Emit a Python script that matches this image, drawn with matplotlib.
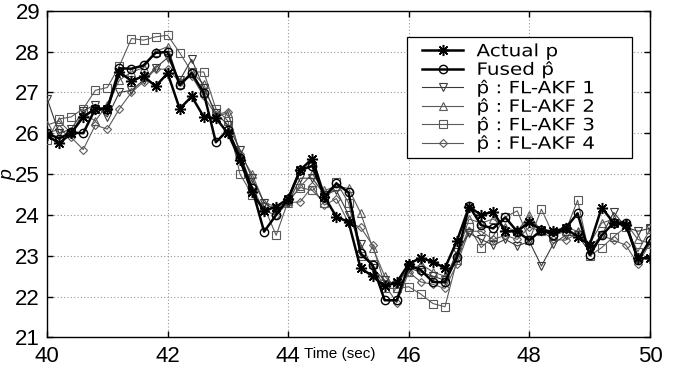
import numpy as np
import matplotlib
matplotlib.use("Agg")
import matplotlib.pyplot as plt
from matplotlib.patheffects import AbstractPathEffect
from matplotlib.transforms import Affine2D
from matplotlib.legend_handler import HandlerLine2D
from matplotlib.lines import Line2D

plt.rcParams['font.family'] = ['Liberation Sans', 'DejaVu Sans']

time = np.round(np.arange(40.0, 50.0001, 0.2), 1)

actual_p = [25.95, 25.75, 26.0, 26.4, 26.6, 26.6, 27.5, 27.28, 27.4, 27.15,
            27.47, 26.6, 26.9, 26.4, 26.37, 26.0, 25.35, 24.55, 24.1, 24.2,
            24.4, 25.1, 25.38, 24.45, 23.95, 23.83, 22.7, 22.5, 22.25, 22.35,
            22.8, 22.95, 22.85, 22.7, 23.37, 24.2, 24.0, 24.08, 23.6, 23.6,
            23.83, 23.62, 23.6, 23.67, 23.47, 23.26, 24.18, 23.8, 23.75, 22.94,
            22.94]

fused_p = [26.0, 25.87, 26.02, 26.0, 26.6, 26.6, 27.59, 27.58, 27.66, 27.97,
           27.99, 27.18, 27.47, 26.98, 25.78, 26.08, 25.4, 24.65, 23.59, 24.0,
           24.4, 25.1, 25.2, 24.45, 24.77, 24.55, 23.06, 22.77, 21.91, 21.91,
           22.77, 22.65, 22.36, 22.35, 22.97, 24.22, 23.75, 23.67, 23.94, 23.59,
           23.38, 23.63, 23.51, 23.67, 24.04, 23.02, 23.5, 23.81, 23.81, 22.9,
           23.38]

akf1 = [26.85, 26.0, 26.1, 26.55, 26.7, 26.4, 27.0, 27.05, 27.3, 27.6,
        27.85, 27.3, 27.81, 27.1, 26.5, 26.2, 25.6, 24.9, 24.3, 24.1,
        24.3, 24.9, 24.9, 24.5, 24.6, 24.0, 23.3, 22.7, 22.4, 22.3,
        22.7, 22.6, 22.5, 22.4, 23.1, 23.55, 23.4, 23.26, 23.4, 23.24,
        23.35, 22.75, 23.3, 23.5, 23.5, 23.1, 23.5, 24.06, 23.7, 23.6,
        23.67]

akf2 = [26.2, 26.3, 26.0, 26.5, 26.3, 26.7, 27.3, 27.5, 27.6, 28.0,
        28.12, 27.2, 27.5, 27.2, 26.4, 26.5, 25.5, 25.0, 24.3, 24.2,
        24.3, 24.7, 25.0, 24.6, 24.7, 24.65, 24.05, 23.2, 22.5, 22.2,
        22.6, 22.8, 22.6, 22.5, 23.0, 23.9, 23.8, 23.9, 23.7, 23.6,
        24.0, 23.6, 23.6, 23.7, 23.6, 23.3, 23.8, 23.9, 23.8, 23.4,
        23.3]

akf3 = [25.83, 26.35, 26.4, 26.6, 27.05, 27.12, 27.65, 28.32, 28.28, 28.36,
        28.4, 27.97, 27.5, 27.5, 26.6, 26.3, 25.0, 24.5, 24.2, 23.5,
        24.35, 24.67, 24.6, 24.3, 24.8, 24.3, 23.0, 22.8, 22.2, 22.2,
        22.24, 22.06, 21.83, 21.75, 22.9, 23.7, 23.2, 23.48, 23.95, 24.1,
        23.38, 24.14, 23.5, 23.6, 24.36, 23.0, 23.2, 23.47, 23.7, 23.1,
        23.65]

akf4 = [26.0, 26.1, 25.9, 25.6, 26.2, 26.1, 26.6, 27.0, 27.26, 27.57,
        27.57, 27.26, 27.4, 26.9, 26.45, 26.53, 25.5, 24.7, 24.1, 24.0,
        24.3, 24.32, 24.7, 24.24, 24.4, 23.8, 23.7, 23.26, 22.3, 21.85,
        22.6, 22.36, 22.3, 22.2, 22.8, 23.6, 23.6, 23.4, 23.5, 23.4,
        23.7, 23.6, 23.4, 23.38, 23.55, 23.2, 23.5, 23.38, 23.26, 22.8,
        23.3]

labels = ["Actual p", "Fused p\u0302",
          "p\u0302 : FL-AKF 1", "p\u0302 : FL-AKF 2",
          "p\u0302 : FL-AKF 3", "p\u0302 : FL-AKF 4"]
xticks = [40, 42, 44, 46, 48, 50]
yticks = [21, 22, 23, 24, 25, 26, 27, 28, 29]


class HStretch(AbstractPathEffect):
    """Draw text glyphs stretched horizontally from the text origin."""
    def __init__(self, sx):
        super().__init__()
        self.sx = sx

    def draw_path(self, renderer, gc, tpath, affine, rgbFace=None):
        renderer.draw_path(gc, tpath, Affine2D().scale(self.sx, 1.0) + affine, rgbFace)


fig = plt.figure(figsize=(6.82, 3.70), dpi=100)
ax = fig.add_axes([0.069, 0.088, 0.884, 0.883])

ax.plot(time, actual_p, color='black', lw=1.8, marker=(8, 2, 0), ms=8, mew=1.1,
        label=labels[0], zorder=6)
ax.plot(time, fused_p, color='black', lw=1.8, marker='o', ms=6, mfc='none', mew=1.0,
        label=labels[1], zorder=5)
ax.plot(time, akf1, color='#3a3a3a', lw=0.8, marker='v', ms=6, mfc='none', mew=0.8,
        label=labels[2], zorder=4)
ax.plot(time, akf2, color='#5a5a5a', lw=0.8, marker='^', ms=6, mfc='none', mew=0.8,
        label=labels[3], zorder=3)
ax.plot(time, akf3, color='#5a5a5a', lw=0.8, marker='s', ms=5.5, mfc='none', mew=0.8,
        label=labels[4], zorder=3)
ax.plot(time, akf4, color='#5a5a5a', lw=0.8, marker='D', ms=4.5, mfc='none', mew=0.8,
        label=labels[5], zorder=3)

ax.set_xlim(40, 50)
ax.set_ylim(21, 29)
ax.set_xticks(xticks)
ax.set_yticks(yticks)
ax.tick_params(direction='in', length=4, width=1.0, labelsize=16,
               top=True, right=True)
ax.tick_params(axis='y', pad=5)
ax.tick_params(axis='x', pad=6)
ax.grid(True, color='#999999', linestyle=(0, (1, 2)), linewidth=0.8)
for s in ax.spines.values():
    s.set_linewidth(1.0)

ax.set_xlabel("Time (sec)", fontsize=11)
ax.xaxis.set_label_coords(0.486, -0.03)
ax.set_ylabel("p", fontsize=14, style='italic')
ax.yaxis.set_label_coords(-0.05, 0.5)

leg_fs = 12.2
leg = ax.legend(loc='upper left', bbox_to_anchor=(0.597, 0.5, 0.373, 0.419),
                mode='expand', borderaxespad=0,
                prop={'family': 'DejaVu Sans', 'size': leg_fs},
                fancybox=False, framealpha=1, edgecolor='black',
                handlelength=3.0, handletextpad=0.8, labelspacing=0.0,
                borderpad=0.3,
                handler_map={Line2D: HandlerLine2D(xpad=0.6)})
leg.get_frame().set_linewidth(0.9)
for t in leg.get_texts():
    t.set_path_effects([HStretch(1.18)])

fig.savefig("out.png", dpi=100)
